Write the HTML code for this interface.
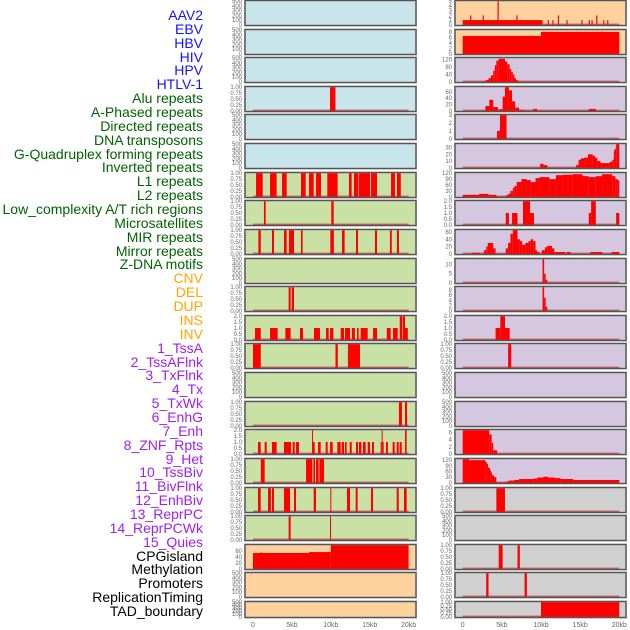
<!DOCTYPE html>
<html><head><meta charset="utf-8">
<style>
html,body{margin:0;padding:0;background:#fff;}
#wrap{position:relative;width:630px;height:630px;overflow:hidden;font-family:"Liberation Sans",sans-serif;}
#labels div{position:absolute;right:427px;font-size:14px;line-height:14px;white-space:nowrap;}
</style></head>
<body>
<div id="wrap">
<div id="labels"></div>
<svg id="svg" width="630" height="630" style="position:absolute;left:0;top:0"></svg>
</div>
<script>
const trackNames = ["AAV2","EBV","HBV","HIV","HPV","HTLV-1","Alu repeats","A-Phased repeats","Directed repeats","DNA transposons","G-Quadruplex forming repeats","Inverted repeats","L1 repeats","L2 repeats","Low_complexity A/T rich regions","Microsatellites","MIR repeats","Mirror repeats","Z-DNA motifs","CNV","DEL","DUP","INS","INV","1_TssA","2_TssAFlnk","3_TxFlnk","4_Tx","5_TxWk","6_EnhG","7_Enh","8_ZNF_Rpts","9_Het","10_TssBiv","11_BivFlnk","12_EnhBiv","13_ReprPC","14_ReprPCWk","15_Quies","CPGisland","Methylation","Promoters","ReplicationTiming","TAD_boundary"];
const trackGroups = [0,0,0,0,0,0,1,1,1,1,1,1,1,1,1,1,1,1,1,2,2,2,2,2,3,3,3,3,3,3,3,3,3,3,3,3,3,3,3,4,4,4,4,4];
const groupColors = ["#1414ff","#006400","#ffa500","#a020f0","#000000"];
const xTickValues = [0,5,10,15,20];
const xTickLabels = ["0","5kb","10kb","15kb","20kb"];

// segments: [startKb, endKb, value]
const L0=[],L1=[],L2=[],L4=[],L5=[],L9=[],L13=[],L20=[],L21=[];
const L3=[[9.9,10.6,1]];
const L6=[[0.39,1.25,1],[2.19,3.04,1],[3.73,4.33,1],[6.17,6.77,1],[7.2,7.8,1],[8.1,8.74,1],[9.55,10.88,1],[12.34,12.68,1],[12.98,13.5,1],[13.58,15.04,1],[15.17,15.94,1],[17.74,18.25,1],[18.5,19.0,1]];
const L7=[[1.41,1.63,1],[10.06,10.37,1]];
const L8=[[0.69,1.0,1],[2.44,2.7,1],[3.98,4.33,1],[4.62,5.27,1],[6.17,6.38,1],[9.94,10.4,1],[11.44,11.78,1],[13.24,13.5,1],[15.68,15.94,1],[17.6,17.84,1],[18.5,18.76,1]];
const L10=[[4.58,4.84,1],[4.97,5.27,1]];
const L11=[[0.26,1.0,1],[2.19,3.17,1],[4.16,4.84,1],[6.04,6.43,1],[7.84,8.61,1],[9.39,9.73,1],[9.9,10.33,1],[11.27,11.7,1],[11.83,12.47,1],[12.7,13.1,1],[13.37,13.58,1],[13.84,14.74,1],[15.43,15.94,1],[17.2,17.7,1],[17.99,18.6,1],[18.86,19.2,2],[19.28,19.54,2],[19.54,19.9,1]];
const L12=[[0,1.0,1],[10.6,10.9,1],[12.2,13.75,1]];
const L14=[[18.76,19.15,1],[19.54,19.8,1]];
const L15=[[0.64,0.99,1],[1.5,1.76,1],[2.44,3.04,1],[3.98,4.88,1],[5.1,5.36,1],[5.53,5.91,1],[7.58,7.71,2],[7.71,7.93,1],[8.35,8.7,1],[9.34,9.6,1],[9.9,10.24,1],[10.84,11.27,1],[11.4,11.7,1],[11.83,12.04,1],[12.43,12.69,1],[13.24,13.5,1],[13.62,13.92,1],[14.14,14.48,1],[14.74,15.04,1],[15.3,15.55,1],[16.41,16.54,1],[16.54,16.67,2],[16.67,16.8,1],[17.1,17.35,1],[17.95,18.21,1],[18.47,18.73,1],[18.85,19.11,1],[19.54,19.75,2]];
const L16=[[1.0,1.5,1],[6.82,7.63,1],[7.76,7.97,1],[8.1,8.44,1],[8.53,9.13,1]];
const L17=[[0.64,0.99,1],[1.93,2.31,1],[2.44,2.7,1],[3.98,4.76,1],[5.27,5.53,1],[7.8,8.1,1],[9.94,10.07,1],[12.08,12.47,1],[13.2,13.45,1],[15.17,15.43,1],[18.47,18.73,1],[19.41,19.75,1]];
const L18=[[4.58,4.84,1],[9.9,10.03,1]];
const L19=[[0,7.2,53],[1.0,1.2,55],[7.2,10,56],[10,20,79]];

const R0=[[0,10.2,1],[0.95,1.1,2],[2.55,2.7,2],[4.45,4.6,5],[6.85,7.0,2],[10.85,11.0,1],[11.45,11.6,1],[12.15,12.3,2],[13.25,13.4,1],[15.15,15.3,1],[16.1,16.25,1],[16.45,16.6,1],[17.05,17.2,2],[17.95,18.1,1],[18.45,18.6,1]];
const R1=[[0,10,6.5],[10,20,8]];
const R2=[[2.75,3.0,5],[3.0,3.3,10],[3.3,3.6,20],[3.6,3.9,35],[3.9,4.1,60],[4.1,4.3,90],[4.3,4.6,115],[4.6,5.4,125],[5.4,5.7,110],[5.7,6.0,95],[6.0,6.2,70],[6.2,6.4,55],[6.4,6.6,40],[6.6,6.8,20],[6.8,7.0,10],[7.0,7.2,5]];
const R3=[[2.9,3.4,15],[3.4,3.9,35],[3.9,4.5,12],[4.6,5.1,5],[5.1,5.4,45],[5.4,5.9,75],[5.9,6.3,65],[6.3,6.7,30],[6.7,7.2,10],[7.2,7.5,3],[7.6,7.9,3],[9.0,9.5,6],[16.1,17.0,6]];
const R4=[[4.38,4.76,1],[4.76,5.6,3]];
const R5=[[9.9,10.3,6],[10.3,10.8,4],[14.5,14.8,4],[14.8,15.1,12],[15.1,15.5,14],[15.5,16.0,15],[16.0,16.6,20],[16.6,16.9,18],[16.9,17.2,15],[17.2,17.6,10],[17.6,18.8,7],[18.8,19.1,9],[19.1,19.3,12],[19.3,19.4,25],[19.4,19.6,28],[19.6,20.0,35]];
const R6=[[0,2.1,10],[2.1,3.3,15],[3.3,4.3,10],[4.3,5.5,2],[5.5,5.8,8],[5.8,6.1,15],[6.1,6.4,30],[6.4,6.6,45],[6.6,6.9,55],[6.9,7.5,75],[7.5,8.2,90],[8.2,8.7,85],[8.7,9.3,75],[9.3,9.8,95],[9.8,11.1,100],[11.1,11.9,90],[11.9,12.8,110],[12.8,14.0,112],[14.0,15.3,115],[15.3,16.1,105],[16.1,17.0,100],[17.0,17.8,105],[17.8,19.1,115],[19.1,19.5,105],[19.5,19.8,90],[19.8,20.0,85]];
const R7=[[5.5,5.9,1],[6.3,7.0,1],[7.7,8.6,2],[8.6,9.1,1],[16.1,16.4,1],[16.4,17.0,2],[19.6,20.0,1]];
const R8=[[1.2,2.2,3],[2.7,3.0,10],[3.0,3.2,20],[3.2,3.9,30],[3.9,4.2,15],[5.5,5.8,15],[5.8,6.1,30],[6.1,6.4,55],[6.4,7.0,65],[7.0,7.3,40],[7.3,7.6,35],[7.6,8.0,25],[8.0,8.4,30],[8.4,8.7,35],[8.7,9.0,40],[9.0,9.3,35],[9.3,9.5,10],[9.5,9.8,5],[10.1,10.5,10],[10.5,10.8,18],[10.8,11.4,22],[11.4,11.7,15],[11.7,13.1,5],[13.3,13.8,5],[16.3,17.8,5],[19.0,20.0,5]];
const R9=[[10.2,10.4,13],[10.4,10.6,5],[10.6,10.8,1.5]];
const R10=[[10.2,10.4,9],[10.4,10.6,5],[10.6,10.8,1.5]];
const R11=[[4.2,4.8,1],[4.8,5.4,2],[5.4,6.0,1]];
const R12=[[5.8,6.2,1]];
const R13=[],R14=[],R18=[];
const R15=[[0,3.4,6.7],[3.4,3.7,5.5],[3.7,3.9,3.1],[3.9,4.4,1]];
const R16=[[0,0.8,125],[0.8,2.9,120],[2.9,3.1,110],[3.1,3.2,100],[3.2,3.5,80],[3.5,3.6,65],[3.6,3.7,55],[3.7,4.0,40],[4.0,4.3,30],[4.3,5.6,2],[5.6,5.9,8],[5.9,6.6,12],[6.6,7.2,15],[7.2,9.0,20],[9.0,9.5,22],[9.5,10.3,28],[10.3,10.9,32],[10.9,11.8,28],[11.8,12.5,25],[12.5,14.1,20],[14.1,20.0,15]];
const R17=[[4.3,5.4,1]];
const R19=[[4.6,5.1,1],[7.0,7.3,1]];
const R20=[[3.0,3.3,1],[7.9,8.2,1]];
const R21=[[10,20,1]];

const T500=[0,100,200,300,400,500], T1=[0,0.25,0.5,0.75,1], T2=[0,0.5,1,1.5,2];
const BLUE="#c9e5ec",GREEN="#c9e1a4",ORANGE="#ffd19c",PURPLE="#d6c7e1",GRAY="#d0d0d0";
const leftPanels=[
 [L0,500,T500,BLUE,0],[L1,500,T500,BLUE,0],[L2,500,T500,BLUE,0],[L3,1,T1,BLUE,2],[L4,500,T500,BLUE,0],[L5,500,T500,BLUE,0],
 [L6,1,T1,GREEN,2],[L7,1,T1,GREEN,2],[L8,1,T1,GREEN,2],[L9,500,T500,GREEN,0],[L10,1,T1,GREEN,2],[L11,2,T2,GREEN,1],[L12,1,T1,GREEN,2],
 [L13,500,T500,GREEN,0],[L14,1,T1,GREEN,2],[L15,2,T2,GREEN,1],[L16,1,T1,GREEN,2],[L17,1,T1,GREEN,2],[L18,1,T1,GREEN,2],
 [L19,79,[0,20,40,60],ORANGE,0],[L20,500,T500,ORANGE,0],[L21,500,T500,ORANGE,0]];
const rightPanels=[
 [R0,5,[0,1,2,3,4,5],ORANGE,0],[R1,8.6,[0,2,4,6,8],ORANGE,0],[R2,128,[0,40,80,120],PURPLE,0],[R3,75,[0,20,40,60],PURPLE,0],
 [R4,3,[0,1,2,3],PURPLE,0],[R5,35,[0,10,20,30],PURPLE,0],[R6,120,[0,30,60,90,120],PURPLE,0],[R7,2,T2,PURPLE,1],
 [R8,65,[0,20,40,60],PURPLE,0],[R9,13,[0,5,10],PURPLE,0],[R10,9,[0,2,4,6,8],PURPLE,0],[R11,2,T2,PURPLE,1],[R12,1,T1,PURPLE,2],
 [R13,500,T500,PURPLE,0],[R14,500,T500,PURPLE,0],[R15,6.7,[0,2,4,6],PURPLE,0],[R16,125,[0,30,60,90,120],PURPLE,0],
 [R17,1,T1,GRAY,2],[R18,500,T500,GRAY,0],[R19,1,T1,GRAY,2],[R20,1,T1,GRAY,2],[R21,1,T1,GRAY,2]];

const NS="http://www.w3.org/2000/svg";
const svg=document.getElementById('svg');
function mk(tag,attrs,parent){const e=document.createElementNS(NS,tag);for(const k in attrs)e.setAttribute(k,attrs[k]);(parent||svg).appendChild(e);return e;}

// labels
const lab=document.getElementById('labels');
trackNames.forEach((n,i)=>{
  const d=document.createElement('div');
  d.textContent=n;
  d.style.top=(8+i*13.86)+'px';
  d.style.color=groupColors[trackGroups[i]];
  
  
  lab.appendChild(d);
});

const cols=[{fx:245,fw:171,x0:253,k:7.78,panels:leftPanels,name:'left'},{fx:455,fw:171,x0:462.7,k:7.83,panels:rightPanels,name:'right'}];
cols.forEach(c=>{
  const xs=v=>c.x0+v*c.k;
  c.panels.forEach((p,i)=>{
    const [data,ymax,ticks,bg,dec]=p;
    const top=Math.round(i*28.62)+0.5, H=(i==21?16:25);
    const ys=v=>top+H-0.7-v/ymax*(H-1.4);
    const g=mk('g',{});
    
    
    const r=mk('rect',{x:c.fx,y:top,width:c.fw,height:H,fill:bg,stroke:'#9a9a9a','stroke-width':2},g);
    
    
    if(data.length){
      const bl=mk('rect',{x:xs(0),y:ys(0)-1.2,width:xs(20)-xs(0),height:1.6,fill:'rgba(175,50,50,0.7)'},g);
      
      
    }
    data.forEach(s=>{
      const b=mk('rect',{x:xs(s[0]),y:ys(s[2]),width:Math.max(1,xs(s[1])-xs(s[0])),height:ys(0)-ys(s[2]),fill:'#ff0000'},g);
      
      
    });
    mk('rect',{x:c.fx,y:top,width:c.fw,height:H,fill:'none',stroke:'#555','stroke-width':1},g);
    ticks.forEach(t=>{
      const tx=mk('text',{x:c.fx-3,y:ys(t)+2,'font-size':6,'text-anchor':'end',fill:'#666','font-family':'Liberation Sans, sans-serif'},g);
      tx.textContent=dec?t.toFixed(dec):String(t);
      
      
    });
  });
  xTickValues.forEach((v,j)=>{
    const t=mk('text',{x:xs(v),y:627,'font-size':7,'text-anchor':'middle',fill:'#666','font-family':'Liberation Sans, sans-serif'});
    t.textContent=xTickLabels[j];
    
    
  });
});
</script>
</body></html>
